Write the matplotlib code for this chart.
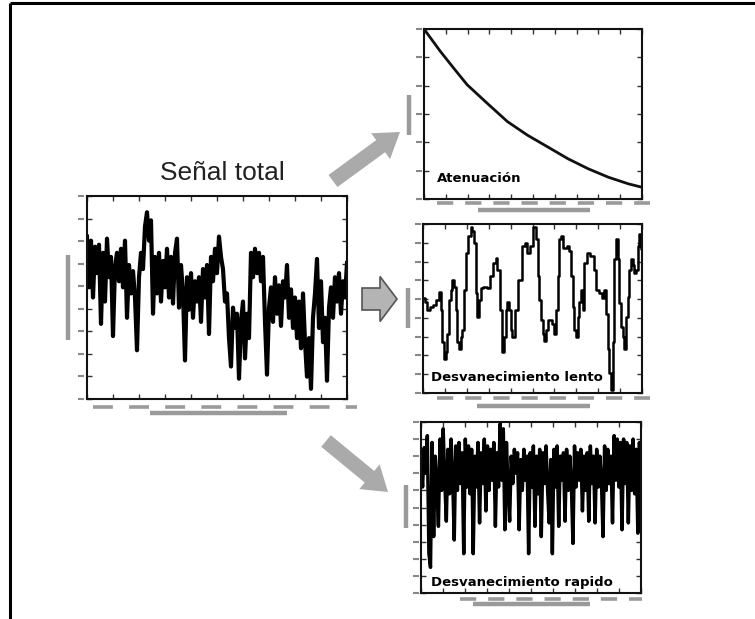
import matplotlib
matplotlib.use("Agg")
import matplotlib.pyplot as plt
from matplotlib.patches import FancyArrow
import numpy as np

# ---------------- data ----------------
total_signal = [80, 55, 78, 50, 75, 62, 76, 37, 72, 48,
                79, 60, 70, 31, 65, 72, 58, 74, 55, 78,
                40, 66, 52, 63, 50, 24, 60, 72, 64, 85,
                92, 78, 88, 42, 70, 52, 72, 48, 68, 55,
                74, 50, 70, 47, 72, 79, 45, 66, 52, 19,
                60, 44, 62, 40, 58, 48, 60, 38, 64, 50,
                66, 32, 70, 58, 74, 62, 80, 70, 64, 48,
                52, 30, 16, 45, 35, 42, 10, 38, 48, 20,
                42, 30, 72, 60, 74, 62, 72, 58, 70, 38,
                12, 45, 55, 38, 60, 42, 56, 36, 58, 50,
                66, 40, 54, 35, 50, 30, 48, 25, 52, 28,
                11, 30, 5, 40, 52, 69, 35, 58, 28, 40,
                9, 45, 55, 40, 60, 48, 62, 42, 58, 50, 67]

atten_t = [0, 7.4, 13.6, 19.8, 29, 38.3, 47.5, 56.8, 66, 75.3, 84.6, 93.8, 100]
atten_v = [100, 87, 77, 67.2, 56.3, 45.5, 37.5, 30.6, 23.7, 17.8, 12.8, 8.9, 6.9]

slow_t = [0, 10, 15, 25, 35, 45, 50, 55, 60, 65, 70, 75, 80, 85, 90, 95,
          100, 105, 110, 115, 120, 125, 130, 140, 145, 150, 155, 160, 165,
          170, 175, 185, 195, 205, 215, 220, 225, 233, 240, 245, 250, 255,
          260, 265, 270, 280, 290, 300, 310, 315, 325, 335, 340, 345, 350,
          355, 360, 365, 370, 380, 390, 395, 400, 405, 410, 415, 425, 435,
          440, 445, 450, 455, 460, 465, 470, 475, 480, 485, 495, 505, 515,
          520, 530, 540, 545, 550, 555, 560, 565, 570, 575, 580, 585, 590,
          595, 600, 605, 610, 615, 620, 625, 630, 635, 640, 645, 650, 655]
slow_v = [56, 54, 49, 51, 52, 55, 60, 49, 30, 20, 24, 35, 55, 61, 67, 63,
          49, 30, 26, 33, 37, 61, 83, 93, 98, 96, 89, 59, 45, 55, 62, 63,
          62, 69, 77, 80, 73, 49, 24, 33, 49, 54, 49, 37, 33, 49, 67, 87,
          89, 83, 87, 98, 91, 69, 55, 43, 35, 31, 37, 43, 41, 35, 49, 69,
          91, 93, 86, 87, 84, 69, 51, 37, 33, 45, 54, 61, 49, 77, 83, 81,
          73, 61, 59, 56, 61, 47, 26, 12, 2, 30, 79, 91, 79, 53, 39, 33,
          26, 45, 57, 73, 79, 76, 71, 73, 87, 94, 85]

fast_v = [78, 62, 85, 70, 92, 23, 15, 88, 33, 80,
          64, 39, 90, 60, 96, 66, 42, 84, 58, 90,
          68, 31, 86, 60, 88, 64, 82, 23, 90, 62,
          86, 58, 84, 23, 80, 62, 88, 41, 82, 64,
          90, 48, 86, 60, 84, 66, 88, 39, 82, 62,
          99, 66, 96, 37, 88, 60, 42, 80, 64, 84,
          70, 82, 37, 78, 60, 84, 66, 80, 23, 82,
          62, 86, 39, 80, 58, 84, 33, 82, 64, 86,
          60, 41, 78, 23, 84, 62, 86, 39, 80, 66,
          82, 42, 84, 60, 80, 64, 29, 86, 62, 82,
          66, 84, 48, 80, 60, 82, 42, 86, 64, 80,
          41, 84, 62, 80, 66, 33, 86, 60, 84, 64,
          80, 41, 92, 66, 90, 62, 88, 37, 90, 64,
          88, 41, 86, 60, 90, 58, 84, 35, 88, 62]

title_main = "Señal total"
label_att = "Atenuación"
label_slow = "Desvanecimiento lento"
label_fast = "Desvanecimiento rapido"

# ---------------- figure ----------------
W, H = 755, 619
fig = plt.figure(figsize=(W / 100, H / 100), dpi=100)
fig.patch.set_facecolor("white")

# overlay in pixel coordinates
ov = fig.add_axes([0, 0, 1, 1], zorder=0)
ov.set_xlim(0, W)
ov.set_ylim(H, 0)
ov.axis("off")

# outer frame (top and left)
ov.plot([10, W], [3, 3], color="black", lw=2.2, solid_capstyle="butt")
ov.plot([10, 10], [3, H], color="black", lw=2.2, solid_capstyle="butt")

GRAY = "#9a9a9a"
AGRAY = "#aaaaaa"


def deco(ylab_x, ylab_y0, ylab_y1, dash_y, dash_x0, dash_x1, bar_y, bar_x0, bar_x1, dash=(6, 4)):
    ov.plot([ylab_x, ylab_x], [ylab_y0, ylab_y1], color=GRAY, lw=3.2, solid_capstyle="butt")
    ov.plot([dash_x0, dash_x1], [dash_y, dash_y], color=GRAY, lw=2.6,
            dashes=dash, solid_capstyle="butt")
    ov.plot([bar_x0, bar_x1], [bar_y, bar_y], color=GRAY, lw=3.2, solid_capstyle="butt")


deco(68, 255, 340, 407, 93, 357, 413, 150, 287, dash=(5.5, 4.5))
deco(409, 95, 135, 203, 437, 650, 210, 478, 590, dash=(4.5, 3.3))
deco(408, 288, 328, 398, 437, 650, 406, 477, 590, dash=(4.5, 3.3))
deco(406, 485, 528, 599, 460, 642, 604, 473, 590, dash=(4.5, 3.3))

# arrows
ov.add_patch(FancyArrow(333, 181, 400 - 333, 132 - 181, width=15, head_width=32,
                        head_length=24, length_includes_head=True,
                        color=AGRAY, lw=0))
ov.add_patch(FancyArrow(326, 441, 388 - 326, 492 - 441, width=15, head_width=32,
                        head_length=24, length_includes_head=True,
                        color=AGRAY, lw=0))
ov.add_patch(FancyArrow(362, 299, 397 - 362, 0, width=22, head_width=45,
                        head_length=17, length_includes_head=True,
                        facecolor="#b4b4b4", edgecolor="#555555", lw=1.2))

# title
ov.text(222, 173, title_main, ha="center", va="center", fontsize=19,
        family="Liberation Sans", color="#222222")


def style(ax, nx, ny, xmax):
    ax.set_ylim(0, 100)
    ax.set_xlim(0, xmax)
    ax.set_xticks(np.linspace(0, xmax, nx))
    ax.set_yticks(np.linspace(0, 100, ny))
    ax.tick_params(direction="in", length=3.5, width=1, colors="#333333",
                   top=True, right=True, labelleft=False, labelbottom=False)
    for s in ax.spines.values():
        s.set_linewidth(1.5)
        s.set_color("#111111")
    # blurred tick labels on the left as short gray marks
    ax.plot(np.full(ny, -0.025), np.linspace(0, 100, ny), transform=ax.get_yaxis_transform(),
            ls="none", marker="_", ms=5, mew=1.5, color="#888888", clip_on=False)


# main
ax0 = fig.add_axes([87 / W, 1 - 399 / H, 260 / W, 203 / H], zorder=2)
ax0.plot(np.arange(len(total_signal)), total_signal, color="black", lw=3.0)
style(ax0, 11, 10, len(total_signal) - 1)

# attenuation
ax1 = fig.add_axes([424 / W, 1 - 199 / H, 218 / W, 170 / H], zorder=2)
ax1.plot(atten_t, atten_v, color="#111111", lw=2)
style(ax1, 11, 7, 100)
ax1.text(0.06, 0.12, label_att, transform=ax1.transAxes, fontsize=9.5,
         fontweight="bold", family="DejaVu Sans", va="center", ha="left")

# slow fading
ax2 = fig.add_axes([423 / W, 1 - 393 / H, 219 / W, 169 / H], zorder=2)
ax2.plot(slow_t, slow_v, color="black", lw=1.8, drawstyle="steps-mid")
style(ax2, 11, 10, 655)
ax2.text(0.035, 0.09, label_slow, transform=ax2.transAxes, fontsize=9.5,
         fontweight="bold", family="DejaVu Sans", va="center", ha="left",
         bbox=dict(facecolor="white", edgecolor="none", pad=0.5), zorder=5)

# fast fading
ax3 = fig.add_axes([421 / W, 1 - 593 / H, 220 / W, 171 / H], zorder=2)
ax3.plot(np.arange(len(fast_v)), fast_v, color="black", lw=2.5)
style(ax3, 11, 11, len(fast_v) - 1)
ax3.text(0.045, 0.06, label_fast, transform=ax3.transAxes, fontsize=9.5,
         fontweight="bold", family="DejaVu Sans", va="center", ha="left")

fig.savefig("out.png", dpi=100)
